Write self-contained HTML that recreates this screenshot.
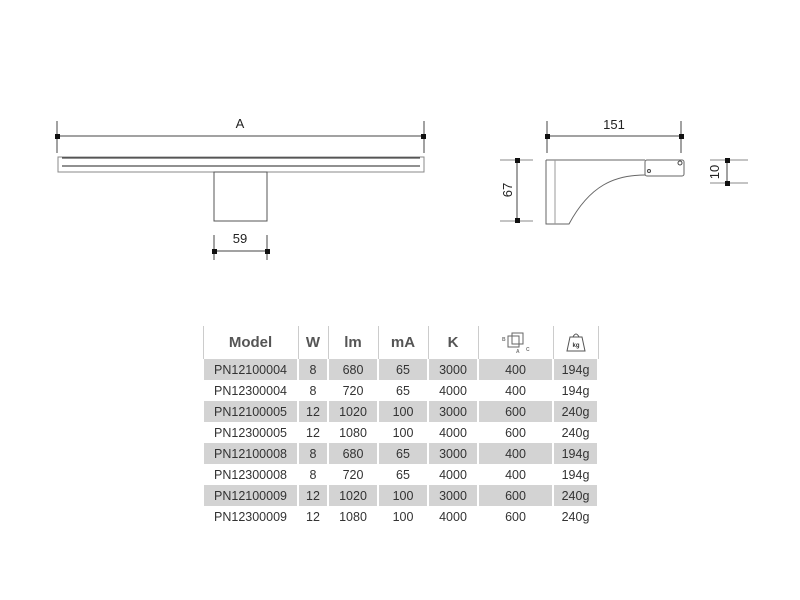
<!DOCTYPE html>
<html><head><style>
body{margin:0;width:800px;height:600px;background:#fff;font-family:"Liberation Sans","DejaVu Sans",sans-serif;position:relative;overflow:hidden}
table{position:absolute;left:202px;top:326px;border-collapse:collapse;font-size:12.5px;color:#333;table-layout:fixed;width:395px}
td,th{text-align:center;padding:0;height:21px;overflow:hidden;white-space:nowrap}
th{height:33px;font-size:15px;font-weight:bold;color:#555;border-left:1px solid #ccc;border-right:1px solid #ccc}
tr.g td{background:#d3d3d3}
td{border-left:2px solid #fff;border-right:2px solid #fff}
</style></head><body>
<svg width="800" height="320" style="position:absolute;left:0;top:0" font-family="Liberation Sans, DejaVu Sans, sans-serif" font-size="13" fill="#222">
<g stroke="#444" stroke-width="1" fill="none">
<line x1="57" y1="121" x2="57" y2="153"/><line x1="424" y1="121" x2="424" y2="153"/>
<line x1="57" y1="136" x2="424" y2="136"/>
<rect x="58" y="157" width="366" height="15" stroke="#888"/>
<line x1="62" y1="158" x2="420" y2="158" stroke="#222"/>
<line x1="62" y1="166" x2="420" y2="166" stroke="#222"/>
<rect x="214" y="172" width="53" height="49" stroke="#555"/>
<line x1="214" y1="235" x2="214" y2="260"/><line x1="267" y1="235" x2="267" y2="260"/>
<line x1="214" y1="251" x2="267" y2="251"/>
<line x1="547" y1="121" x2="547" y2="153"/><line x1="681" y1="121" x2="681" y2="153"/>
<line x1="547" y1="136" x2="681" y2="136"/>
<path d="M546 160 H645 M546 160 V224 H569 C590 185 615 175 645 175" stroke="#666"/>
<line x1="555" y1="160" x2="555" y2="224" stroke="#999"/>
<rect x="645" y="160" width="39" height="16" rx="2" stroke="#666"/>
<circle cx="680" cy="163" r="2"/><circle cx="649" cy="171" r="1.5"/>
<line x1="500" y1="160" x2="533" y2="160" stroke="#888"/><line x1="500" y1="221" x2="533" y2="221" stroke="#888"/>
<line x1="517" y1="160" x2="517" y2="221"/>
<line x1="710" y1="160" x2="748" y2="160" stroke="#888"/><line x1="710" y1="183" x2="748" y2="183" stroke="#888"/>
<line x1="727" y1="160" x2="727" y2="183"/>
</g>
<g fill="#111">
<rect x="55" y="134" width="5" height="5"/><rect x="421" y="134" width="5" height="5"/>
<rect x="212" y="249" width="5" height="5"/><rect x="265" y="249" width="5" height="5"/>
<rect x="545" y="134" width="5" height="5"/><rect x="679" y="134" width="5" height="5"/>
<rect x="515" y="158" width="5" height="5"/><rect x="515" y="218" width="5" height="5"/>
<rect x="725" y="158" width="5" height="5"/><rect x="725" y="181" width="5" height="5"/>
</g>
<text x="240" y="128" text-anchor="middle">A</text>
<text x="240" y="243" text-anchor="middle">59</text>
<text x="614" y="129" text-anchor="middle">151</text>
<text transform="translate(512,190) rotate(-90)" text-anchor="middle">67</text>
<text transform="translate(719,172) rotate(-90)" text-anchor="middle">10</text>
</svg>
<table>
<colgroup><col style="width:95px"><col style="width:30px"><col style="width:50px"><col style="width:50px"><col style="width:50px"><col style="width:75px"><col style="width:45px"></colgroup>
<tr><th>Model</th><th>W</th><th>lm</th><th>mA</th><th>K</th><th><svg width="34" height="24"><rect x="9" y="7" width="11" height="11" fill="none" stroke="#666"/><rect x="13" y="4" width="11" height="11" fill="none" stroke="#666"/><text x="17" y="24" font-size="5" fill="#777">A</text><text x="27" y="22" font-size="5" fill="#777">C</text><text x="3" y="12" font-size="5" fill="#777">B</text></svg></th><th><svg width="24" height="24"><path d="M3 22 L6 8 H18 L21 22 Z" fill="none" stroke="#555"/><path d="M9 8 Q12 2 15 8" fill="none" stroke="#555"/><text x="12" y="18" font-size="6" text-anchor="middle" fill="#333">kg</text></svg></th></tr>
<tr class="g"><td>PN12100004</td><td>8</td><td>680</td><td>65</td><td>3000</td><td>400</td><td>194g</td></tr>
<tr><td>PN12300004</td><td>8</td><td>720</td><td>65</td><td>4000</td><td>400</td><td>194g</td></tr>
<tr class="g"><td>PN12100005</td><td>12</td><td>1020</td><td>100</td><td>3000</td><td>600</td><td>240g</td></tr>
<tr><td>PN12300005</td><td>12</td><td>1080</td><td>100</td><td>4000</td><td>600</td><td>240g</td></tr>
<tr class="g"><td>PN12100008</td><td>8</td><td>680</td><td>65</td><td>3000</td><td>400</td><td>194g</td></tr>
<tr><td>PN12300008</td><td>8</td><td>720</td><td>65</td><td>4000</td><td>400</td><td>194g</td></tr>
<tr class="g"><td>PN12100009</td><td>12</td><td>1020</td><td>100</td><td>3000</td><td>600</td><td>240g</td></tr>
<tr><td>PN12300009</td><td>12</td><td>1080</td><td>100</td><td>4000</td><td>600</td><td>240g</td></tr>
</table>
</body></html>
